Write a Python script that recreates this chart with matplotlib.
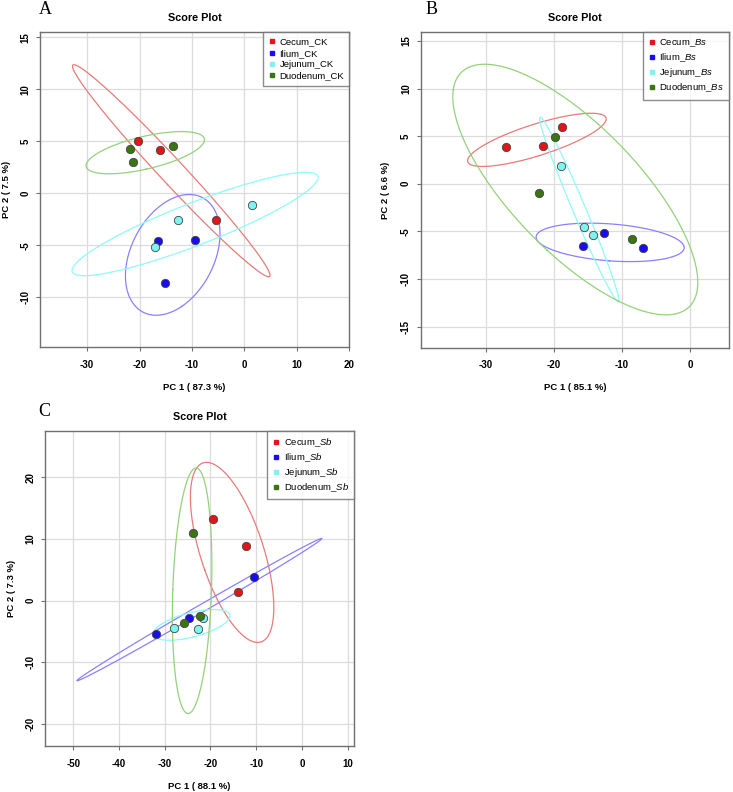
"""
PCA score plots (three panels) with 95% confidence ellipses
"""
import numpy as np
import matplotlib
matplotlib.use("Agg")
import matplotlib.pyplot as plt
from matplotlib.lines import Line2D

plt.rcParams['font.family'] = ['Liberation Sans', 'DejaVu Sans']
plt.rcParams['mathtext.fontset'] = 'custom'
plt.rcParams['mathtext.rm'] = 'Liberation Sans'
plt.rcParams['mathtext.it'] = 'Liberation Sans:italic'
plt.rcParams['axes.unicode_minus'] = False

groups = ["Cecum", "Ilium", "Jejunum", "Duodenum"]
point_colors = ["#E0161B", "#1B0BF2", "#7FF3F0", "#3B7412"]
ellipse_colors = ["#E77B78", "#8A80FF", "#8EFBFA", "#93D27A"]

# panel A (CK)
a_x = [[-20.3, -16.2, -5.4], [-16.45, -9.5, -15.1],
       [-12.6, -17.0, 1.37], [-21.85, -21.3, -13.6]]
a_y = [[5.0, 4.16, -2.6], [-4.58, -4.5, -8.65],
       [-2.56, -5.13, -1.12], [4.23, 2.98, 4.55]]

# panel B (Bs)
b_x = [[-27.0, -21.6, -18.85], [-15.7, -12.6, -6.96],
       [-18.9, -15.6, -14.3], [-19.87, -22.2, -8.5]]
b_y = [[3.91, 4.0, 5.93], [-6.53, -5.2, -6.71],
       [1.85, -4.58, -5.38], [4.93, -0.94, -5.8]]

# panel C (Sb)
c_x = [[-19.45, -12.3, -14.05], [-10.5, -24.8, -32.0],
       [-21.6, -28.05, -22.8], [-23.75, -22.4, -25.9]]
c_y = [[13.2, 8.87, 1.41], [3.79, -2.8, -5.34],
       [-2.75, -4.43, -4.59], [10.97, -2.48, -3.67]]

CHI_T = np.sqrt(-2 * np.log(0.05))  # 95% level, 2 dof


def ellipse_xy(x, y, n=200):
    pts = np.column_stack([x, y])
    centre = pts.mean(axis=0)
    vals, vecs = np.linalg.eigh(np.cov(pts.T))
    vals = np.clip(vals, 0, None)
    th = np.linspace(0, 2 * np.pi, n)
    circ = np.vstack([np.cos(th), np.sin(th)])
    xy = (vecs * np.sqrt(vals)) @ circ * CHI_T
    return centre[0] + xy[0], centre[1] + xy[1]


def draw_panel(ax, xs, ys, suffix, xlabel, ylabel, xlim, ylim, xticks, yticks, ylab_x):
    for i in range(len(groups)):
        ex, ey = ellipse_xy(xs[i], ys[i])
        ax.plot(ex, ey, color=ellipse_colors[i], lw=0.9, zorder=2)
    for i in range(len(groups)):
        ax.scatter(xs[i], ys[i], s=36, color=point_colors[i],
                   edgecolors="#444444", linewidths=0.6, zorder=3)
    ax.set_xlim(xlim)
    ax.set_ylim(ylim)
    ax.set_xticks(xticks)
    ax.set_yticks(yticks)
    ax.grid(color="#DCDCDC", lw=0.9, zorder=0)
    ax.set_axisbelow(True)
    for sp in ax.spines.values():
        sp.set_color("#707070")
        sp.set_linewidth(1.0)
    ax.tick_params(colors="#707070", length=3, width=0.8, labelcolor="black", labelsize=7)
    ax.tick_params(axis='x', pad=6)
    ax.tick_params(axis='y', pad=4, labelrotation=90)
    for t in ax.get_xticklabels() + ax.get_yticklabels():
        t.set_fontweight('bold')
    for t in ax.get_yticklabels():
        t.set_va('center')
    ax.set_title("Score Plot", fontsize=7.8, fontweight='bold', pad=8)
    ax.set_xlabel(xlabel, fontsize=6.8, fontweight='bold')
    ax.set_ylabel(ylabel, fontsize=6.8, fontweight='bold')
    ax.xaxis.set_label_coords(0.5, -0.113)
    ax.yaxis.set_label_coords(ylab_x, 0.5)
    handles = [Line2D([], [], marker='s', ls='', ms=3.2, color=c) for c in point_colors]
    labels = [g + "_" + suffix for g in groups]
    leg = ax.legend(handles, labels, loc='upper right', fontsize=6.8, frameon=True,
                    fancybox=False, borderaxespad=0, handlelength=0.8,
                    handletextpad=0.4, labelspacing=0.25, borderpad=0.55)
    leg.get_frame().set_edgecolor("#707070")
    leg.get_frame().set_linewidth(1.0)


fig = plt.figure(figsize=(7.33, 7.92), dpi=100)
W, H = 733, 792
axA = fig.add_axes([40 / W, (H - 347.3) / H, 309.3 / W, 315 / H])
axB = fig.add_axes([420.7 / W, (H - 347.7) / H, 308.6 / W, 315.4 / H])
axC = fig.add_axes([45 / W, (H - 746.3) / H, 309 / W, 315.3 / H])

draw_panel(axA, a_x, a_y, "CK", "PC 1 ( 87.3 %)", "PC 2 ( 7.5 %)",
           (-39.0, 20.0), (-14.8, 15.5), range(-30, 21, 10), range(-10, 16, 5), -0.094)
draw_panel(axB, b_x, b_y, r"$\it{Bs}$", "PC 1 ( 85.1 %)", "PC 2 ( 6.6 %)",
           (-39.5, 5.7), (-17.2, 15.9), range(-30, 1, 10), range(-15, 16, 5), -0.1)
draw_panel(axC, c_x, c_y, r"$\it{Sb}$", "PC 1 ( 88.1 %)", "PC 2 ( 7.3 %)",
           (-56.2, 11.4), (-23.6, 27.5), range(-50, 11, 10), range(-20, 21, 10), -0.094)

for letter, x, y in [("A", 45, 9), ("B", 432, 9), ("C", 44, 412)]:
    fig.text(x / W, 1 - y / H, letter, family='Liberation Serif', fontsize=13,
             ha='center', va='center')

fig.savefig("out.png", dpi=100)
plt.close(fig)
